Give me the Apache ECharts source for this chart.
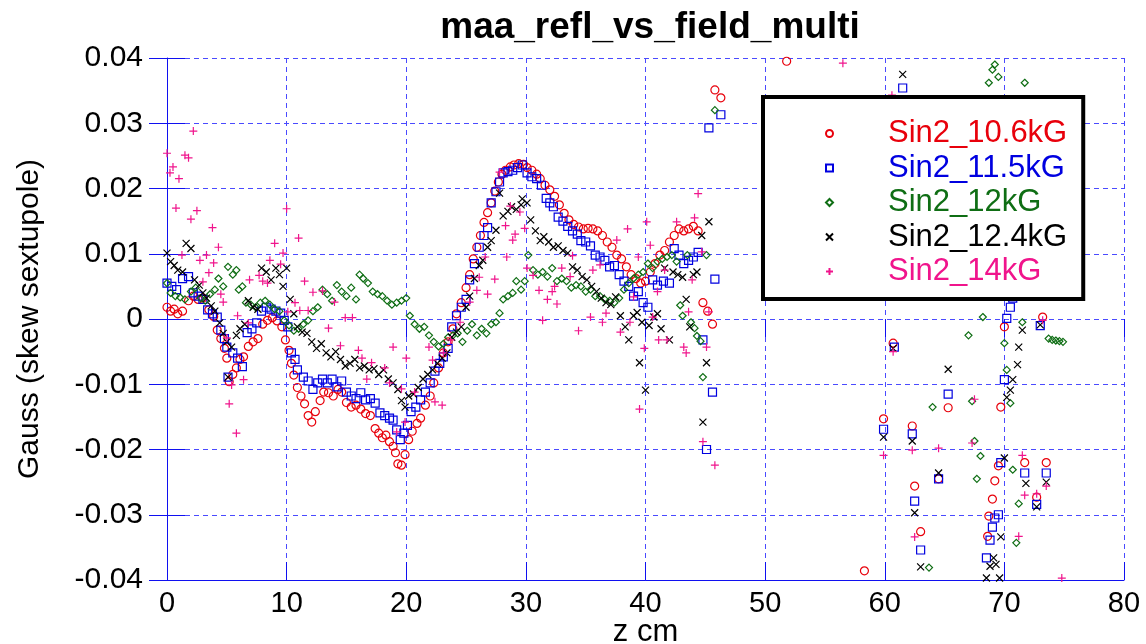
<!DOCTYPE html>
<html>
<head>
<meta charset="utf-8">
<title>maa_refl_vs_field_multi</title>
<script src="https://cdn.jsdelivr.net/npm/echarts@6/dist/echarts.min.js"></script>
<style>
  html, body { margin: 0; padding: 0; background: #fff; overflow: hidden; }
  #chart { width: 1146px; height: 644px; }
</style>
</head>
<body>
<div id="chart"></div>
<script>
// z (cm), value (Gauss) pairs
const sin2_106 = [
  [0,0.0018],[0.3,0.0012],[0.6,0.0015],[0.9,0.0008],[1.3,0.0012],[1.8,0.0028],[2.2,0.0035],[2.6,0.003],[3.0,0.0032],
  [3.5,0.0014],[3.9,0.0004],[4.2,-0.0017],[4.5,-0.003],[4.8,-0.0045],[5.0,-0.006],[5.2,-0.0096],[5.5,-0.0085],[5.8,-0.0075],
  [6.1,-0.0062],[6.4,-0.0058],[6.8,-0.0042],[7.2,-0.0035],[7.6,-0.003],[8.0,-0.0008],[8.4,-0.0002],[8.8,0.0002],[9.2,-0.0003],
  [9.6,-0.0012],[9.9,-0.0032],[10.2,-0.0048],[10.4,-0.0068],[10.6,-0.0086],[10.9,-0.0105],[11.2,-0.0118],[11.5,-0.013],
  [11.8,-0.0148],[12.1,-0.0158],[12.4,-0.0142],[12.8,-0.0125],[13.1,-0.0112],[13.5,-0.0113],[13.9,-0.0118],[14.3,-0.0108],
  [14.6,-0.0112],[15.0,-0.0128],[15.4,-0.0135],[15.8,-0.0132],[16.2,-0.0138],[16.6,-0.0145],[17.0,-0.0148],[17.4,-0.0168],
  [17.7,-0.0175],[18.0,-0.0182],[18.3,-0.0178],[18.6,-0.0188],[18.9,-0.0195],[19.1,-0.0205],[19.3,-0.0222],[19.6,-0.0224],
  [19.9,-0.0208],[20.2,-0.0185],[20.5,-0.0172],[20.9,-0.016],[21.2,-0.0152],[21.6,-0.0132],[22.0,-0.0118],[22.3,-0.0098],
  [22.7,-0.0075],[23.1,-0.0052],[23.5,-0.0035],[23.9,-0.0015],[24.2,0.0008],[24.6,0.0025],[25.0,0.0048],[25.3,0.0068],
  [25.6,0.0092],[25.9,0.011],[26.2,0.0128],[26.5,0.0148],[26.8,0.0163],[27.1,0.0178],[27.4,0.0196],[27.7,0.021],[28.0,0.0222],
  [28.3,0.0228],[28.7,0.0233],[29.0,0.0236],[29.4,0.0238],[29.8,0.0237],[30.1,0.0232],[30.5,0.0228],[30.9,0.0222],[31.2,0.0215],
  [31.6,0.0205],[32.0,0.0198],[32.4,0.0188],[32.8,0.0175],[33.2,0.0162],[33.6,0.0152],[34.0,0.0145],[34.4,0.0141],[34.8,0.0138],
  [35.2,0.0139],[35.6,0.0138],[36.0,0.0135],[36.4,0.0128],[36.8,0.0118],[37.2,0.011],[37.6,0.0098],[38.0,0.0092],[38.4,0.008],
  [38.8,0.0068],[39.2,0.0062],[39.6,0.0055],[40.0,0.0058],[40.4,0.0072],[40.8,0.0085],[41.2,0.0098],[41.6,0.0105],[42.0,0.0118],
  [42.4,0.0128],[42.8,0.0138],[43.2,0.0135],[43.6,0.0138],[44.0,0.0142],[44.4,0.0135],[44.8,0.0025],[45.2,0.0012],[45.6,-0.0008],
  [45.8,0.0351],[46.3,0.0339],[51.8,0.0395],[58.3,-0.0386],[59.9,-0.0153],[60.7,-0.0037],[62.3,-0.0164],[62.5,-0.0256],
  [63.0,-0.0326],[64.5,-0.0245],[65.3,-0.0136],[68.6,-0.0333],[68.7,-0.0302],[69.0,-0.0276],[69.2,-0.0248],[69.5,-0.0225],
  [69.7,-0.0135],[70.0,-0.0012],[71.7,-0.022],[72.7,-0.0273],[73.2,0.0003],[73.5,-0.022]
];

const sin2_115 = [
  [0,0.0055],[0.4,0.005],[0.8,0.0045],[1.3,0.0062],[1.8,0.0065],[2.2,0.004],[2.6,0.0035],[3.0,0.003],[3.4,0.0014],[3.8,0.0008],
  [4.2,0.0003],[4.5,-0.0017],[4.8,-0.003],[5.0,-0.0043],[5.1,-0.0089],[5.5,-0.0052],[5.9,-0.006],[6.3,-0.0073],[6.7,-0.0021],
  [7.1,-0.0015],[7.5,-0.0006],[7.9,0.0012],[8.3,0.0018],[8.7,0.0015],[9.1,0.0012],[9.5,0.0009],[9.8,-0.0002],[10.1,-0.0012],
  [10.4,-0.0052],[10.7,-0.0062],[10.9,-0.0078],[11.4,-0.0089],[11.8,-0.0095],[12.2,-0.0108],[12.6,-0.0098],[13.0,-0.0092],
  [13.4,-0.0098],[13.8,-0.0092],[14.2,-0.0104],[14.6,-0.0095],[15.0,-0.0112],[15.4,-0.0118],[15.8,-0.0122],[16.2,-0.0113],
  [16.6,-0.0124],[17.0,-0.0122],[17.4,-0.0129],[17.8,-0.0144],[18.2,-0.0148],[18.6,-0.0152],[18.9,-0.0155],[19.2,-0.017],
  [19.5,-0.0185],[19.8,-0.0175],[20.1,-0.0163],[20.4,-0.0142],[20.8,-0.0135],[21.2,-0.0124],[21.6,-0.0112],[22.0,-0.0098],
  [22.4,-0.008],[22.8,-0.0068],[23.1,-0.0058],[23.5,-0.0045],[23.8,-0.0012],[24.2,0.0005],[24.6,0.0018],[25.0,0.003],[25.3,0.006],
  [25.7,0.0085],[26.1,0.011],[26.5,0.0128],[26.8,0.014],[27.1,0.0178],[27.5,0.0195],[27.8,0.021],[28.1,0.0224],[28.5,0.0226],
  [28.9,0.0228],[29.3,0.0232],[29.7,0.0236],[30.1,0.0224],[30.5,0.0218],[30.9,0.0215],[31.3,0.0205],[31.7,0.0185],[32.0,0.0178],
  [32.3,0.0172],[32.7,0.0156],[33.1,0.015],[33.5,0.0142],[33.9,0.0135],[34.3,0.013],[34.6,0.012],[35.0,0.0118],[35.4,0.0112],
  [35.8,0.0098],[36.2,0.0095],[36.6,0.009],[37.0,0.008],[37.4,0.0082],[37.8,0.0068],[38.2,0.0058],[38.6,0.005],[39.0,0.0035],
  [39.4,0.0042],[39.8,0.0025],[40.2,0.0018],[40.6,0.006],[41.0,0.0052],[41.5,0.0058],[42.0,0.0055],[42.4,0.0108],[42.8,0.0098],
  [43.2,0.0085],[43.6,0.009],[44.0,0.0095],[44.4,0.0102],[44.8,-0.0032],[45.1,-0.02],[45.3,0.0293],[45.6,-0.0112],[45.8,0.0061],
  [46.3,0.0313],[59.9,-0.0169],[60.8,-0.0043],[61.5,0.0354],[62.3,-0.0176],[62.5,-0.0279],[63.0,-0.0354],[64.5,-0.0245],
  [65.3,-0.0115],[68.5,-0.0366],[68.8,-0.0339],[69.0,-0.0319],[69.2,-0.0305],[69.5,-0.03],[69.7,-0.022],[70.0,-0.0093],
  [70.2,0.0001],[70.5,0.0018],[70.7,0.0032],[71.7,-0.0236],[72.7,-0.0284],[73.0,-0.001],[73.5,-0.0236]
];

const sin2_12 = [
  [0,0.0055],[0.3,0.004],[0.7,0.0035],[1.1,0.0033],[1.5,0.003],[2.0,0.0042],[2.4,0.0048],[2.8,0.0032],[3.2,0.0028],[3.6,0.0038],
  [4.0,0.0045],[4.3,0.0062],[4.7,0.005],[5.1,0.008],[5.5,0.0068],[5.8,0.0075],[6.0,0.0045],[6.3,0.005],[6.6,0.0025],[7.0,0.0022],
  [7.4,0.0018],[7.8,0.0025],[8.2,0.0028],[8.6,0.0022],[9.0,0.0015],[9.4,0.0012],[9.8,-0.0002],[10.2,-0.001],[10.6,-0.0018],
  [11.0,-0.0015],[11.4,-0.0008],[11.8,-0.0002],[12.2,0.0012],[12.6,0.0018],[13.0,0.0045],[13.4,0.0038],[13.8,0.0028],[14.2,0.0052],
  [14.6,0.0042],[15.0,0.0035],[15.4,0.0048],[15.8,0.003],[16.1,0.0068],[16.4,0.0062],[16.8,0.0055],[17.2,0.0042],[17.6,0.0038],
  [18.0,0.0035],[18.4,0.0028],[18.8,0.0022],[19.2,0.0025],[19.6,0.0028],[20.0,0.0032],[20.3,0.0005],[20.7,-0.0008],[21.1,-0.0015],
  [21.5,-0.0012],[21.9,-0.0025],[22.3,-0.0035],[22.7,-0.0042],[23.1,-0.0038],[23.5,-0.0028],[23.9,-0.0025],[24.3,-0.0022],
  [24.7,-0.0035],[25.1,-0.0018],[25.5,-0.0008],[25.9,-0.0025],[26.3,-0.0015],[26.7,-0.0022],[27.1,-0.0008],[27.5,-0.0005],
  [27.8,0.0009],[28.1,0.003],[28.5,0.0035],[28.9,0.004],[29.2,0.0058],[29.6,0.0045],[29.9,0.0058],[30.2,0.0098],[30.6,0.0075],
  [31.0,0.0068],[31.4,0.0072],[31.8,0.0065],[32.2,0.0078],[32.6,0.0058],[33.0,0.0062],[33.4,0.0058],[33.8,0.0048],[34.2,0.0052],
  [34.6,0.005],[35.0,0.0042],[35.4,0.0045],[35.8,0.0035],[36.2,0.0035],[36.6,0.003],[37.0,0.0028],[37.4,0.0025],[37.8,0.0032],
  [38.2,0.0045],[38.6,0.0055],[39.0,0.0062],[39.4,0.0068],[39.8,0.0072],[40.2,0.0085],[40.6,0.0078],[41.0,0.0088],[41.4,0.0092],
  [41.8,0.0095],[42.2,0.0098],[42.6,0.0088],[42.9,0.0021],[43.1,0.0005],[43.5,0.0098],[43.8,-0.0005],[44.1,-0.0014],[44.3,-0.0026],
  [44.6,-0.0034],[44.8,-0.0089],[45.1,0.0098],[45.8,0.032],[63.7,-0.0381],[64.0,-0.0135],[67.0,-0.0025],[67.3,-0.0126],
  [67.5,-0.0187],[67.7,-0.0245],[68.0,-0.021],[68.2,0.0003],[68.7,0.0362],[69.0,0.0382],[69.2,0.039],[69.5,0.0371],[70.0,-0.0037],
  [70.2,-0.0078],[70.5,-0.0129],[70.7,-0.0231],[71.0,-0.0343],[71.2,-0.0283],[71.5,-0.0005],[71.7,0.0362],[73.7,-0.003],
  [74.0,-0.0032],[74.3,-0.0033],[74.6,-0.0034],[74.9,-0.0035]
];

const sin2_124 = [
  [0,0.0101],[0.3,0.0088],[0.6,0.0082],[0.9,0.0075],[1.3,0.0072],[1.6,0.0116],[2.0,0.0108],[2.3,0.006],[2.7,0.0052],[3.0,0.004],
  [3.3,0.0032],[3.7,0.002],[4.0,0.0012],[4.4,-0.0006],[4.7,-0.0022],[5.0,-0.0035],[5.1,-0.0089],[5.4,-0.0043],[5.8,-0.0025],
  [6.1,-0.0015],[6.5,-0.0008],[6.8,0.0028],[7.2,0.0018],[7.6,0.0015],[7.9,0.0078],[8.3,0.0072],[8.7,0.006],[9.1,0.0078],
  [9.4,0.0068],[9.7,0.005],[10.0,0.0078],[10.3,0.003],[10.6,0.0008],[10.9,-0.0012],[11.3,-0.002],[11.7,-0.0022],[12.1,-0.0035],
  [12.5,-0.0045],[12.9,-0.0038],[13.3,-0.0052],[13.7,-0.0058],[14.1,-0.005],[14.5,-0.0062],[14.9,-0.0072],[15.3,-0.0068],
  [15.7,-0.0062],[16.1,-0.0075],[16.5,-0.0072],[16.9,-0.0078],[17.3,-0.0076],[17.7,-0.0085],[18.1,-0.0078],[18.5,-0.0092],
  [18.9,-0.0098],[19.3,-0.0108],[19.6,-0.0125],[19.9,-0.0135],[20.2,-0.0118],[20.6,-0.0115],[21.0,-0.0105],[21.4,-0.0092],
  [21.8,-0.0085],[22.2,-0.0078],[22.6,-0.0068],[23.0,-0.006],[23.4,-0.0052],[23.8,-0.0028],[24.2,-0.002],[24.6,-0.0012],
  [25.0,0.0018],[25.3,0.0035],[25.7,0.0062],[26.1,0.0082],[26.4,0.009],[26.8,0.011],[27.1,0.012],[27.5,0.0136],[27.8,0.0193],
  [28.1,0.0158],[28.5,0.0165],[28.8,0.0172],[29.2,0.0168],[29.6,0.0175],[29.7,0.0184],[30.1,0.0178],[30.4,0.0152],[30.8,0.0135],
  [31.2,0.012],[31.5,0.0126],[31.9,0.0118],[32.3,0.011],[32.7,0.0112],[33.1,0.0105],[33.5,0.0101],[33.9,0.008],[34.3,0.0075],
  [34.7,0.0065],[35.1,0.006],[35.5,0.005],[35.9,0.0042],[36.3,0.0032],[36.7,0.0025],[37.1,0.0022],[37.5,0.0034],[37.9,0.0005],
  [38.3,-0.0012],[38.6,-0.0032],[39.0,0.0005],[39.3,0.001],[39.5,-0.0067],[39.7,-0.0005],[40.0,-0.0109],[40.3,-0.001],
  [40.7,0.0003],[41.0,0.0008],[41.3,-0.0015],[41.6,0.0078],[42.0,-0.0032],[42.3,0.0072],[42.7,0.0068],[43.1,0.0064],[43.4,0.003],
  [43.7,-0.0012],[44.0,0.0068],[44.3,0.0072],[44.7,0.0128],[44.8,-0.0158],[45.1,-0.0067],[45.3,0.0149],[59.9,-0.0181],
  [60.7,-0.0045],[61.5,0.0375],[62.3,-0.0187],[62.5,-0.0297],[63.0,-0.038],[64.5,-0.0236],[65.3,-0.0077],[68.5,-0.0397],
  [68.8,-0.0379],[69.1,-0.0366],[69.3,-0.0376],[69.6,-0.0397],[69.7,-0.0334],[70.0,-0.0213],[70.2,-0.012],[70.5,-0.0109],
  [70.7,-0.0093],[71.1,-0.007],[71.2,-0.0043],[71.5,-0.0017],[71.8,-0.0252],[72.7,-0.0288],[73.0,-0.0009],[73.5,-0.025]
];

const sin2_14 = [
  [0,0.0254],[0.25,0.0224],[0.5,0.0233],[0.75,0.017],[1.0,0.0215],[1.25,0.0098],[1.5,0.0251],[1.8,0.0247],[2.0,0.0153],
  [2.2,0.0288],[2.5,0.0166],[2.75,0.009],[3.0,0.0057],[3.3,0.0098],[3.5,0.0071],[3.8,0.014],[3.9,0.0086],[4.3,0.011],[4.5,0.0038],
  [4.7,0.0026],[5.0,-0.0029],[5.2,-0.013],[5.4,-0.0101],[5.8,-0.0175],[5.9,0.0005],[6.4,-0.0093],[6.8,-0.0006],[6.9,0.006],
  [7.7,0.0067],[8.0,0.0058],[8.4,0.0055],[8.6,0.009],[9.0,0.0116],[9.5,0.0084],[9.7,0.0101],[10.0,0.0169],[10.1,0.0011],
  [10.7,0.0025],[11.0,0.0124],[11.1,0.0013],[11.5,0.0058],[11.8,0.0013],[12.2,0.0041],[13.0,0.0043],[13.5,-0.0014],[14.0,0.0026],
  [14.5,-0.0041],[14.9,0.0002],[15.5,0.0002],[16.0,-0.0048],[16.3,-0.006],[16.7,-0.0092],[17.1,-0.0067],[18.2,-0.0075],
  [18.6,-0.0098],[18.9,-0.0043],[19.2,-0.0173],[19.6,-0.0107],[19.9,-0.0158],[20.0,-0.006],[20.7,-0.0112],[21.9,-0.0043],
  [22.2,-0.0063],[22.4,-0.0127],[23.0,-0.0132],[23.1,-0.0052],[23.7,-0.0032],[24.5,-0.0005],[25.3,0.0026],[25.9,0.0044],
  [26.1,0.0064],[26.6,0.0095],[26.8,0.0038],[27.4,0.0061],[27.8,0.0225],[28.3,0.0143],[28.4,0.0095],[28.7,0.0173],[28.9,0.0121],
  [29.1,0.013],[29.5,0.0164],[29.9,0.0139],[30.1,0.0078],[30.6,0.0067],[31.1,0.0044],[31.4,-0.0002],[31.8,0.003],[32.2,0.0042],
  [32.4,0.005],[32.6,0.0023],[33.0,0.0078],[33.7,0.0065],[33.9,0.0097],[34.4,-0.0018],[35.4,0.0003],[35.6,0.0075],[36.2,0.0083],
  [36.4,-0.0005],[36.7,0.0009],[37.6,0.0121],[37.9,-0.002],[38.5,0.0138],[38.7,-0.0005],[39.0,0.0034],[39.4,0.0095],
  [39.5,-0.0138],[39.9,-0.0045],[40.1,0.0149],[40.4,0.0113],[40.6,0.0003],[41.0,0.0042],[41.1,-0.0032],[41.6,0.0075],
  [41.8,-0.0032],[42.6,0.0149],[43.2,-0.0043],[43.4,-0.0052],[43.6,0.0011],[43.9,0.006],[44.1,0.0155],[44.4,0.0192],[44.7,0.0103],
  [44.8,-0.0188],[45.1,-0.0043],[45.3,0.0011],[45.8,-0.0224],[56.5,0.0392],[59.9,-0.0209],[60.6,0.0343],[60.7,-0.005],
  [62.3,-0.0201],[62.5,-0.0334],[64.5,-0.0198],[67.3,-0.019],[67.5,-0.0123],[71.2,-0.0333],[71.5,-0.0209],[71.7,-0.027],
  [72.7,-0.0268],[73.2,-0.0002],[73.5,-0.0256],[74.8,-0.0397]
];

const FONT = 'Liberation Sans, Arial, sans-serif';
const AXIS_BLUE = '#1010f0';
const GRID_BLUE = '#4a4aff';

const chart = echarts.init(document.getElementById('chart'));

// hollow markers like the original plot
function scatter(name, data, symbol, size, color) {
  return {
    name: name,
    type: 'scatter',
    data: data,
    symbol: symbol,
    symbolSize: size,
    itemStyle: { color: 'rgba(0,0,0,0)', borderColor: color, borderWidth: 1.2, opacity: 1 },
    emphasis: { disabled: true }
  };
}

const CROSS = 'path://M0,0L10,10M10,0L0,10';
const PLUS = 'path://M5,0L5,10M0,5L10,5';

const series = [
  scatter('Sin2_10.6kG', sin2_106, 'circle', 8, '#e8000b'),
  scatter('Sin2_11.5kG', sin2_115, 'rect', 8, '#0000e0'),
  scatter('Sin2_12kG', sin2_12, 'diamond', 7, '#0f6e14'),
  scatter('Sin2_12.4kG', sin2_124, CROSS, 7, '#000000'),
  scatter('Sin2_14kG', sin2_14, PLUS, 8, '#f0148c')
];

const legendColors = ['#e8000b', '#0000e0', '#0f6e14', '#000000', '#f0148c'];

const option = {
  animation: false,
  backgroundColor: '#fff',
  title: {
    text: 'maa_refl_vs_field_multi',
    left: 645,
    textAlign: 'center',
    top: 4,
    textStyle: { fontFamily: FONT, fontSize: 37, fontWeight: 'bold', color: '#000' }
  },
  legend: {
    orient: 'vertical',
    left: 763,
    top: 97,
    padding: [21, 16, 12, 62],
    itemWidth: 7,
    itemHeight: 7,
    itemGap: 3.5,
    backgroundColor: '#fff',
    borderColor: '#000',
    borderWidth: 4,
    borderRadius: 0,
    textStyle: { fontFamily: FONT, fontSize: 31, lineHeight: 31, padding: [0, 0, 0, 50] },
    data: series.map((s, i) => ({ name: s.name, textStyle: { color: legendColors[i] } }))
  },
  grid: { left: 167, right: 22, top: 58, bottom: 64, containLabel: false, outerBoundsMode: 'none' },
  xAxis: [
    {
      type: 'value', min: 0, max: 80, interval: 10,
      name: 'z cm', nameLocation: 'middle', nameGap: 37, nameMoveOverlap: false,
      nameTextStyle: { fontFamily: FONT, fontSize: 31, color: '#000' },
      axisLine: { show: true, onZero: false, lineStyle: { color: AXIS_BLUE, width: 1 } },
      axisTick: { show: true, inside: true, length: 18, lineStyle: { color: AXIS_BLUE } },
      axisLabel: { fontFamily: FONT, fontSize: 29, color: '#000', margin: 9 },
      splitLine: { show: true, lineStyle: { color: GRID_BLUE, type: [5, 4], width: 1 } }
    },
    {
      type: 'value', min: 0, max: 80, interval: 10, position: 'top',
      axisLine: { show: false },
      axisTick: { show: true, inside: true, length: 18, lineStyle: { color: AXIS_BLUE } },
      axisLabel: { show: false },
      splitLine: { show: false }
    }
  ],
  yAxis: [
    {
      type: 'value', min: -0.04, max: 0.04, interval: 0.01,
      name: 'Gauss (skew sextupole)', nameLocation: 'middle', nameGap: 122, nameMoveOverlap: false,
      nameTextStyle: { fontFamily: FONT, fontSize: 30, color: '#000' },
      axisLine: { show: true, onZero: false, lineStyle: { color: AXIS_BLUE, width: 1 } },
      axisTick: { show: true, inside: true, length: 18, lineStyle: { color: AXIS_BLUE } },
      axisLabel: { fontFamily: FONT, fontSize: 30, color: '#000', margin: 24 },
      splitLine: { show: true, lineStyle: { color: GRID_BLUE, type: [5, 4], width: 1 } }
    },
    {
      type: 'value', min: -0.04, max: 0.04, interval: 0.01, position: 'right',
      axisLine: { show: false },
      axisTick: { show: true, inside: true, length: 18, lineStyle: { color: AXIS_BLUE } },
      axisLabel: { show: false },
      splitLine: { show: false }
    }
  ],
  series: series
};

chart.setOption(option);
</script>
</body>
</html>
